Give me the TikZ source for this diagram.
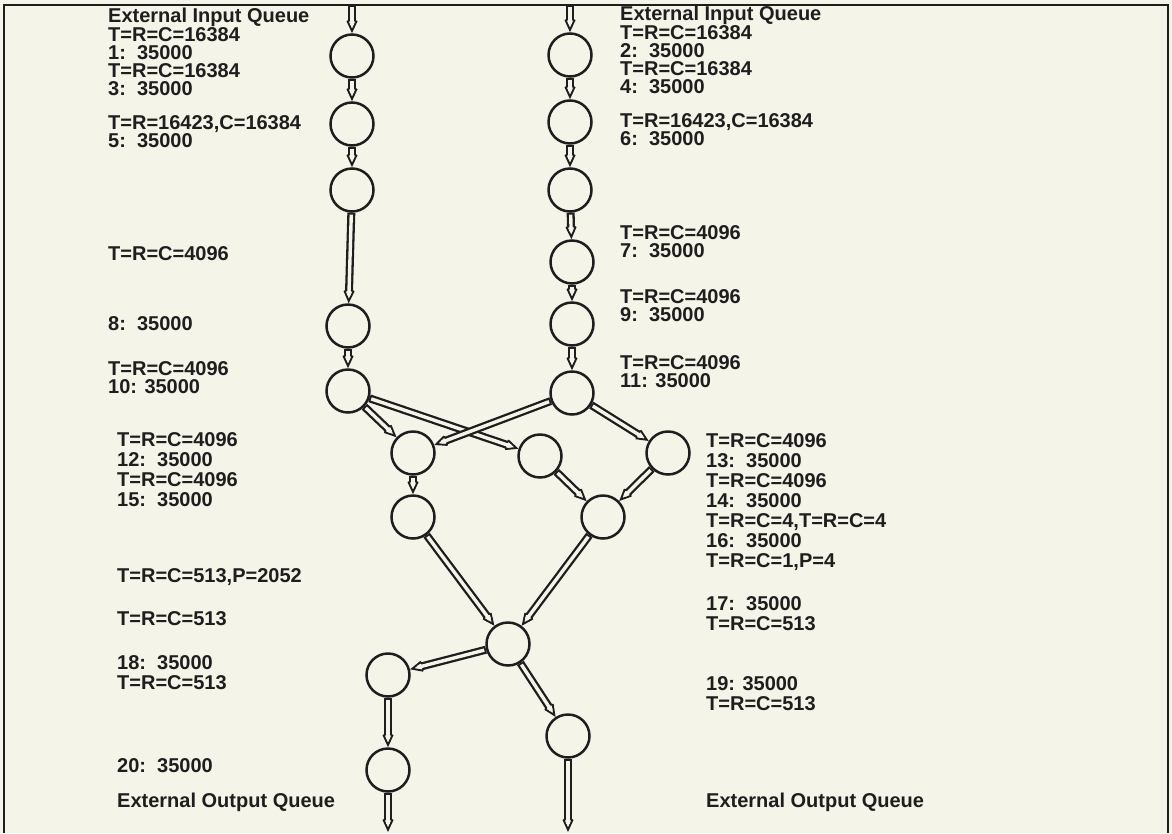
\documentclass[tikz,border=0pt]{standalone}
\usepackage{fontspec}
\setmainfont{Liberation Sans}
\usetikzlibrary{arrows.meta}
\definecolor{paper}{RGB}{245,244,233}
\definecolor{ink}{RGB}{30,30,30}
\begin{document}
\begin{tikzpicture}[x=1pt,y=-1pt,
  station/.style={circle, draw=ink, line width=2.5pt, minimum size=43pt, inner sep=0pt, fill=paper},
  pipe/.style={draw=ink, line width=1.9pt,
    -{Kite[length=16pt, width=11pt, inset=4pt, fill=paper]},
    preaction={draw=ink, line width=8pt, -, shorten >=12pt},
    postaction={draw=paper, line width=3.4pt, -, shorten >=8pt, shorten <=1.8pt}},
  txt/.style={anchor=north west, inner sep=0pt, align=left, text=ink,
    font=\bfseries\fontsize{20}{18}\selectfont},
  txtwide/.style={txt, font=\bfseries\fontsize{20}{20}\selectfont}]
\fill[paper] (0,0) rectangle (1172,833);
\useasboundingbox (0,0) rectangle (1172,833);

% stations of the left chain
\node[station] (L1)  at (352,56)  {};
\node[station] (L3)  at (352,124) {};
\node[station] (L5)  at (352,190) {};
\node[station] (L8)  at (348,326) {};
\node[station] (L10) at (348,391) {};
% stations of the right chain
\node[station] (R2)  at (570,55)  {};
\node[station] (R4)  at (570,122) {};
\node[station] (R6)  at (570,190) {};
\node[station] (R7)  at (572,262) {};
\node[station] (R9)  at (572,324) {};
\node[station] (R11) at (572,393) {};
% exchange stage
\node[station] (A) at (413,453) {};
\node[station] (B) at (540,456) {};
\node[station] (C) at (668,453) {};
\node[station] (D) at (413,517) {};
\node[station] (E) at (603,517) {};
\node[station] (F) at (508,644) {};
\node[station] (G) at (388,675) {};
\node[station] (H) at (568,736) {};
\node[station] (I) at (388,770) {};

% queue ends
\coordinate (inL)  at (352,5);
\coordinate (inR)  at (570,5);
\coordinate (outL) at (388,832);
\coordinate (outR) at (568,832);

% connectors
\draw[pipe] (inL) -- (L1);
\draw[pipe] (L1) -- (L3);
\draw[pipe] (L3) -- (L5);
\draw[pipe] (L5) -- (L8);
\draw[pipe] (L8) -- (L10);
\draw[pipe] (inR) -- (R2);
\draw[pipe] (R2) -- (R4);
\draw[pipe] (R4) -- (R6);
\draw[pipe] (R6) -- (R7);
\draw[pipe] (R7) -- (R9);
\draw[pipe] (R9) -- (R11);
\draw[pipe] (L10) -- (A);
\draw[pipe] (L10) -- (B);
\draw[pipe] (R11) -- (A);
\draw[pipe] (R11) -- (C);
\draw[pipe] (A) -- (D);
\draw[pipe] (B) -- (E);
\draw[pipe] (C) -- (E);
\draw[pipe] (D) -- (F);
\draw[pipe] (E) -- (F);
\draw[pipe] (F) -- (G);
\draw[pipe] (F) -- (H);
\draw[pipe] (G) -- (I);
\draw[pipe] (I) -- (outL);
\draw[pipe] (H) -- (outR);

% left labels
\node[txt] (tl1) at (108,8)   {External Input Queue\\T=R=C=16384\\1:\ \ 35000\\T=R=C=16384\\3:\ \ 35000};
\node[txt] (tl2) at (108,115) {T=R=16423,C=16384\\5:\ \ 35000};
\node[txt] (tl3) at (108,246) {T=R=C=4096};
\node[txt] (tl4) at (108,316) {8:\ \ 35000};
\node[txt] (tl5) at (108,361) {T=R=C=4096\\10: 35000};
\node[txtwide] (tl6) at (117,432) {T=R=C=4096\\12:\ \ 35000\\T=R=C=4096\\15:\ \ 35000};
\node[txt] (tl7) at (117,568) {T=R=C=513,P=2052};
\node[txt] (tl8) at (117,611) {T=R=C=513};
\node[txtwide] (tl9) at (117,655) {18:\ \ 35000\\T=R=C=513};
\node[txt] (tl10) at (117,758) {20:\ \ 35000};
\node[txt] (tl11) at (117,793) {External Output Queue};

% right labels
\node[txt] (tr1) at (620,6)   {External Input Queue\\T=R=C=16384\\2:\ \ 35000\\T=R=C=16384\\4:\ \ 35000};
\node[txt] (tr2) at (620,113) {T=R=16423,C=16384\\6:\ \ 35000};
\node[txt] (tr3) at (620,225) {T=R=C=4096\\7:\ \ 35000};
\node[txt] (tr4) at (620,289) {T=R=C=4096\\9:\ \ 35000};
\node[txt] (tr5) at (620,355) {T=R=C=4096\\11: 35000};
\node[txtwide] (tr6) at (706,433) {T=R=C=4096\\13:\ \ 35000\\T=R=C=4096\\14:\ \ 35000\\T=R=C=4,T=R=C=4\\16:\ \ 35000\\T=R=C=1,P=4};
\node[txtwide] (tr7) at (706,596) {17:\ \ 35000\\T=R=C=513};
\node[txtwide] (tr8) at (706,676) {19: 35000\\T=R=C=513};
\node[txt] (tr9) at (706,793) {External Output Queue};

% frame
\draw[ink, line width=2pt] (4,833) -- (4,5) -- (1168,5) -- (1168,833);
\end{tikzpicture}
\end{document}
